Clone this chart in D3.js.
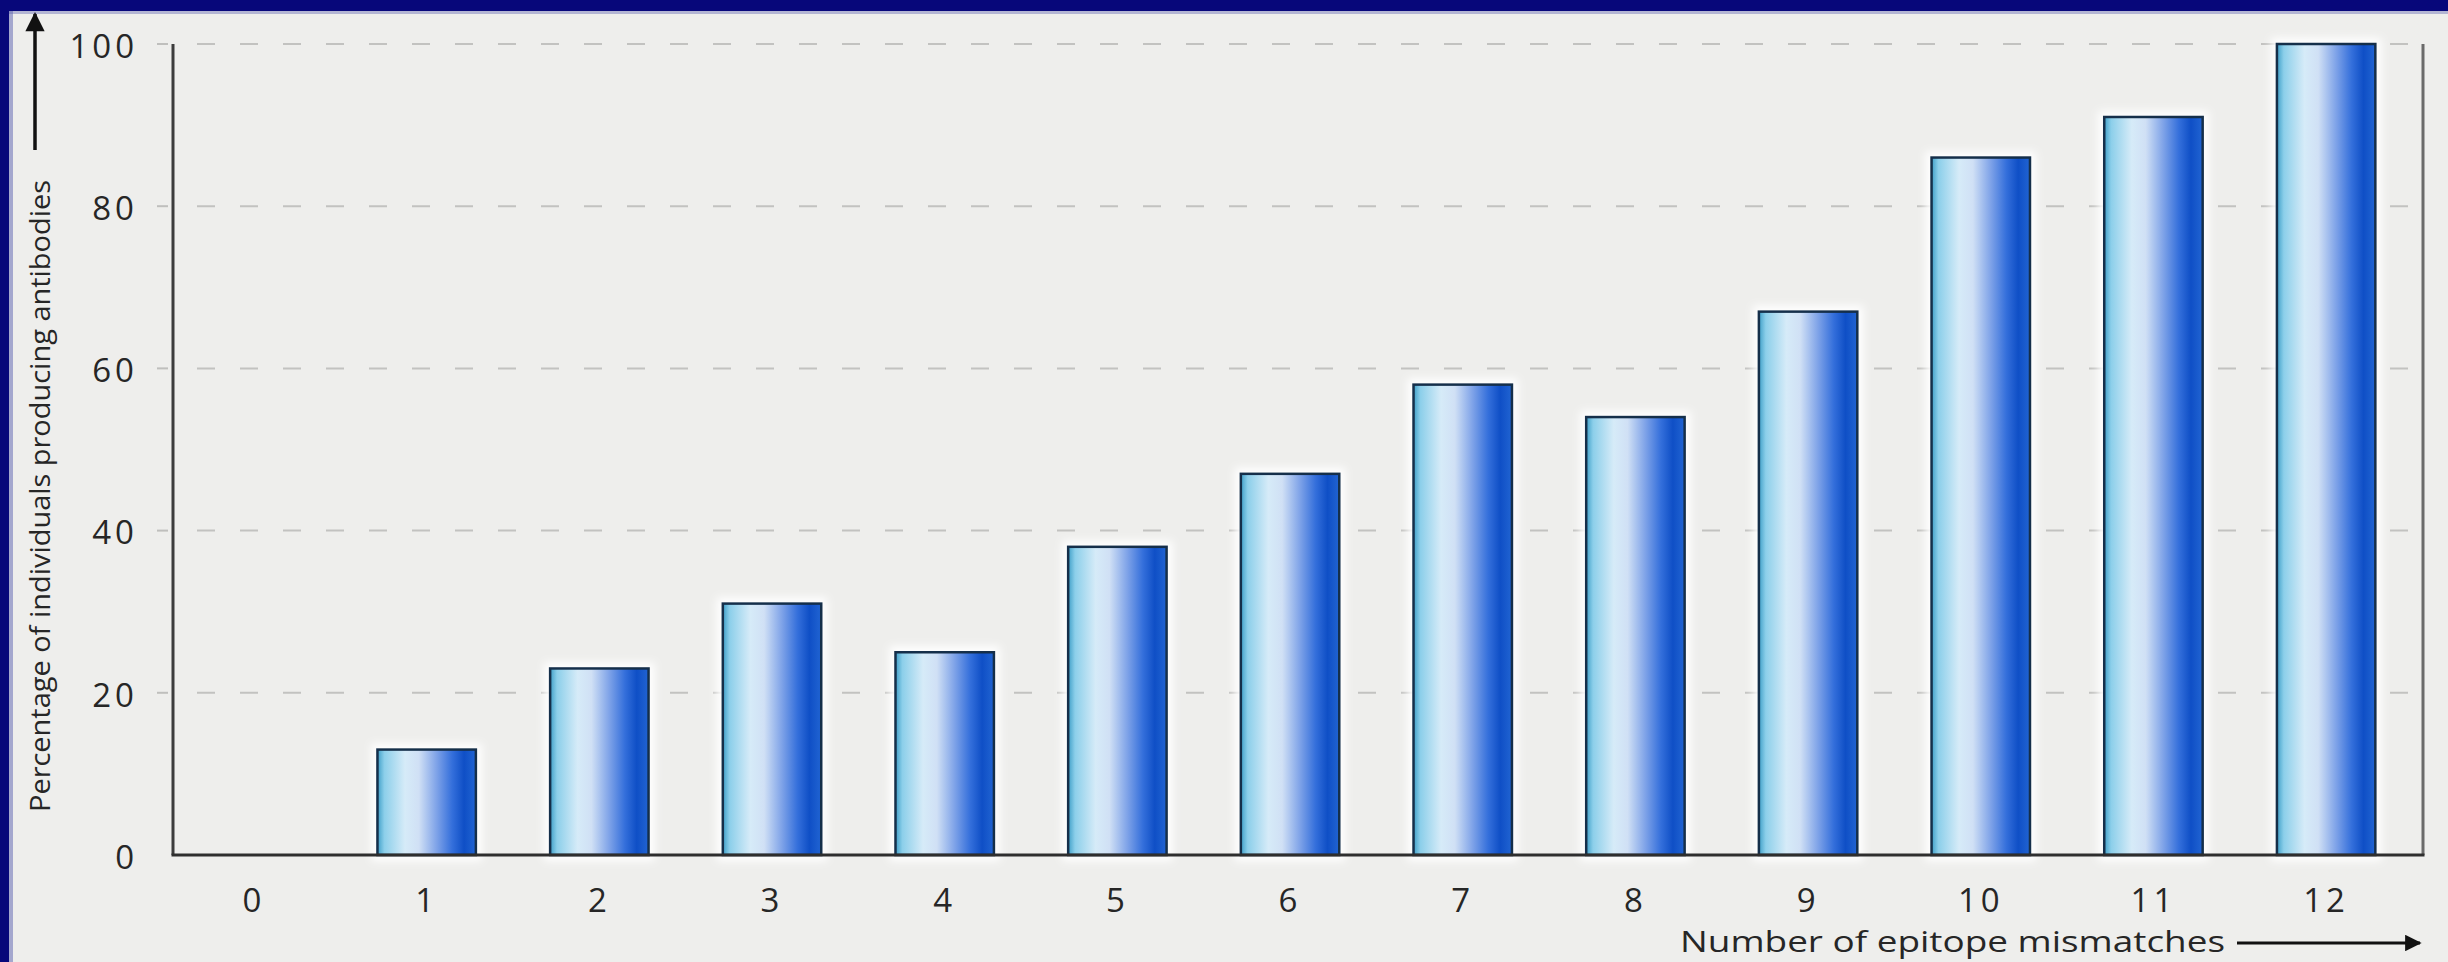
<!DOCTYPE html>
<html>
<head>
<meta charset="utf-8">
<script src="https://cdn.jsdelivr.net/npm/d3@7"></script>
<style>
  html, body { margin: 0; padding: 0; background: #eeeeec; }
  svg { display: block; }
  text { font-family: "Open Sans", "Noto Sans", sans-serif; fill: #262626; }
</style>
</head>
<body>
<svg id="chart" width="2448" height="962"></svg>
<script>
// Antibody response by number of epitope mismatches
const mismatches = ["0", "1", "2", "3", "4", "5", "6", "7", "8", "9", "10", "11", "12"];
const percentProducing = [0, 13, 23, 31, 25, 38, 47, 58, 54, 67, 86, 91, 100];
const yTickValues = [0, 20, 40, 60, 80, 100];
const xTitle = "Number of epitope mismatches";
const yTitle = "Percentage of individuals producing antibodies";

const W = 2448, H = 962;
const plot = { left: 173, right: 2423, top: 44, bottom: 855 };

const svg = d3.select("#chart");
const defs = svg.append("defs");

// cylinder-like shading across each bar
const grad = defs.append("linearGradient")
  .attr("id", "barShade").attr("x1", "0%").attr("x2", "100%").attr("y1", "0%").attr("y2", "0%");
[
  ["0%", "#3f9fc8"], ["7%", "#8ccfea"], ["28%", "#d6ebf8"], ["42%", "#d0e0f5"],
  ["60%", "#7fa3e8"], ["76%", "#346fdb"], ["88%", "#0f4fc6"], ["100%", "#2164d2"]
].forEach(([o, c]) => grad.append("stop").attr("offset", o).attr("stop-color", c));

const glow = defs.append("filter").attr("id", "glow")
  .attr("x", "-30%").attr("y", "-30%").attr("width", "160%").attr("height", "160%");
glow.append("feGaussianBlur").attr("stdDeviation", 4);

// backdrop and frame edges
svg.append("rect").attr("width", W).attr("height", H).attr("fill", "#eeeeec");
svg.append("rect").attr("x", 0).attr("y", 0).attr("width", W).attr("height", 11).attr("fill", "#07077a");
svg.append("rect").attr("x", 0).attr("y", 0).attr("width", 9).attr("height", H).attr("fill", "#07077a");
svg.append("rect").attr("x", 9).attr("y", 11).attr("width", 4).attr("height", H - 11).attr("fill", "#5a5fb0").attr("opacity", 0.5);
svg.append("rect").attr("x", 9).attr("y", 11).attr("width", W - 9).attr("height", 3).attr("fill", "#5a5fb0").attr("opacity", 0.4);

const x = d3.scaleBand()
  .domain(mismatches)
  .range([plot.left, plot.right])
  .paddingInner(0.43)
  .paddingOuter(0.23)
  .align(0.4);

const y = d3.scaleLinear().domain([0, 100]).range([plot.bottom, plot.top]);

// dashed gridlines
const grid = svg.append("g");
yTickValues.filter(v => v > 0).forEach(v => {
  grid.append("line")
    .attr("x1", 157).attr("x2", 168).attr("y1", y(v)).attr("y2", y(v))
    .attr("stroke", "#bfbfbd").attr("stroke-width", 2);
  grid.append("line")
    .attr("x1", 197).attr("x2", plot.right - 4).attr("y1", y(v)).attr("y2", y(v))
    .attr("stroke", "#c2c2c0").attr("stroke-width", 2)
    .attr("stroke-dasharray", "18 25");
});

// bars
const bars = svg.append("g");
const data = mismatches.map((m, i) => ({ m, v: percentProducing[i] })).filter(d => d.v > 0);

bars.selectAll("rect.halo").data(data).join("rect")
  .attr("class", "halo")
  .attr("x", d => x(d.m)).attr("y", d => y(d.v))
  .attr("width", x.bandwidth()).attr("height", d => y(0) - y(d.v))
  .attr("fill", "#ffffff").attr("stroke", "#ffffff").attr("stroke-width", 12)
  .attr("filter", "url(#glow)");

bars.selectAll("rect.bar").data(data).join("rect")
  .attr("class", "bar")
  .attr("x", d => x(d.m)).attr("y", d => y(d.v))
  .attr("width", x.bandwidth()).attr("height", d => y(0) - y(d.v))
  .attr("fill", "url(#barShade)")
  .attr("stroke", "#152f4a").attr("stroke-width", 2.5);

// axis lines
svg.append("line").attr("x1", plot.left).attr("x2", plot.left)
  .attr("y1", plot.top).attr("y2", plot.bottom)
  .attr("stroke", "#3c3c3c").attr("stroke-width", 3);
svg.append("line").attr("x1", plot.right).attr("x2", plot.right)
  .attr("y1", plot.top).attr("y2", plot.bottom)
  .attr("stroke", "#6a6a6a").attr("stroke-width", 3);
svg.append("line").attr("x1", plot.left - 1.5).attr("x2", plot.right + 1.5)
  .attr("y1", plot.bottom).attr("y2", plot.bottom)
  .attr("stroke", "#2e2e2e").attr("stroke-width", 3);

// tick labels
const yAxis = svg.append("g").attr("transform", `translate(${plot.left},0)`)
  .call(d3.axisLeft(y).tickValues(yTickValues).tickSize(0).tickPadding(35));
yAxis.select(".domain").remove();
yAxis.selectAll("text")
  .attr("font-size", 33).attr("letter-spacing", 4).attr("font-weight", 500)
  .attr("font-family", "'Open Sans', sans-serif").attr("fill", "#262626")
  .attr("dy", "0.4em");

const xAxis = svg.append("g").attr("transform", `translate(0,${plot.bottom})`)
  .call(d3.axisBottom(x).tickSize(0).tickPadding(34));
xAxis.select(".domain").remove();
xAxis.selectAll("text")
  .attr("font-size", 33).attr("letter-spacing", 4).attr("font-weight", 500)
  .attr("font-family", "'Open Sans', sans-serif").attr("fill", "#262626");

// axis titles with direction arrows
defs.append("marker").attr("id", "arrowHead")
  .attr("viewBox", "0 0 10 10").attr("refX", 9).attr("refY", 5)
  .attr("markerWidth", 7).attr("markerHeight", 5.5).attr("orient", "auto")
  .attr("markerUnits", "strokeWidth")
  .append("path").attr("d", "M0,0 L10,5 L0,10 Z").attr("fill", "#111");

svg.append("text")
  .attr("transform", "translate(50,812) rotate(-90)")
  .attr("font-size", 28)
  .attr("textLength", 632).attr("lengthAdjust", "spacingAndGlyphs")
  .text(yTitle);
svg.append("line").attr("x1", 35).attr("x2", 35).attr("y1", 150).attr("y2", 14)
  .attr("stroke", "#111").attr("stroke-width", 3.5).attr("marker-end", "url(#arrowHead)");

svg.append("text")
  .attr("x", 1680).attr("y", 952)
  .attr("font-size", 30)
  .attr("textLength", 545).attr("lengthAdjust", "spacingAndGlyphs")
  .text(xTitle);
svg.append("line").attr("x1", 2237).attr("x2", 2420).attr("y1", 943).attr("y2", 943)
  .attr("stroke", "#111").attr("stroke-width", 3).attr("marker-end", "url(#arrowHead)");
</script>
</body>
</html>
